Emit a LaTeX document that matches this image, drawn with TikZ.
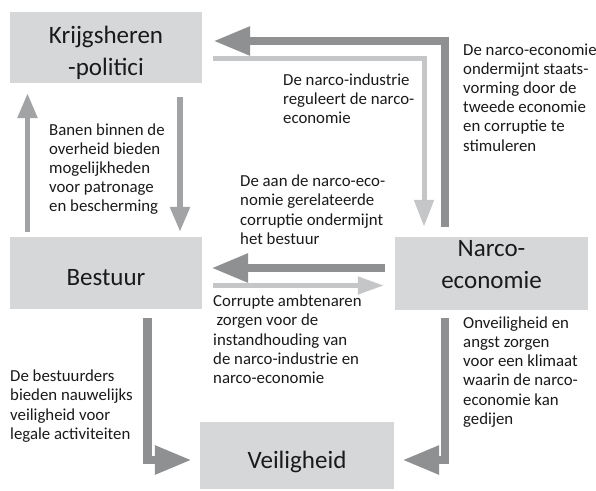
\documentclass[tikz,border=0pt]{standalone}
\usepackage{fontspec}
\setmainfont{Carlito}
\usetikzlibrary{arrows.meta,calc}
\definecolor{boxgray}{RGB}{214,215,217}
\definecolor{darkgr}{RGB}{143,144,146}
\definecolor{midgr}{RGB}{162,163,165}
\definecolor{lightgr}{RGB}{197,198,200}
\definecolor{txt}{RGB}{26,26,26}
\begin{document}
\begin{tikzpicture}[x=1pt,y=-1pt,
  box/.style={fill=boxgray, draw=none, inner sep=0pt, text=txt,
    font=\fontsize{25}{32}\selectfont, text depth=0pt},
  note/.style={anchor=base west, inner sep=0pt, text=txt,
    font=\fontsize{16.8}{19.2}\selectfont},
  darkarr/.style={draw=darkgr, line width=8.5pt, line join=miter,
    -{Triangle[length=37pt,width=27pt]}},
  medarr/.style={draw=midgr, line width=5.5pt, line join=miter,
    -{Triangle[length=25pt,width=19pt]}},
  lightarr/.style={draw=lightgr, line width=5pt, line join=miter,
    -{Triangle[length=27pt,width=19pt]}},
  lightarrb/.style={draw=lightgr, line width=4.5pt, line join=miter,
    -{Triangle[length=26pt,width=17pt]}}
]
\useasboundingbox (0,0) rectangle (596,490);
\fill[white] (0,0) rectangle (596,490);

% boxes
\node[box, minimum width=192pt, minimum height=71pt, text height=55pt] (kp) at (106,47.5)
  {\begin{tabular}[b]{@{}c@{}}Krijgsheren\\-politici\end{tabular}};
\node[box, minimum width=192pt, minimum height=72pt, text height=24pt] (be) at (106,273) {Bestuur};
\node[box, minimum width=193pt, minimum height=73pt, text height=29.6pt] (ne) at (491.5,273.5)
  {\begin{tabular}[b]{@{}c@{}}Narco-\\economie\end{tabular}};
\node[box, minimum width=194pt, minimum height=67pt, text height=25pt] (ve) at (297,455.5) {Veiligheid};

% connectors
\draw[darkarr] ($(ne.north)+(-46.5,-10)$) |- ($(kp.east)+(11,-6.5)$);
\draw[lightarr] ($(kp.east)+(11,11)$) -| ($(ne.north)+(-67.5,-10)$);
\draw[medarr] ($(be.north)+(-78.5,-5)$) -- ($(kp.south)+(-78.5,10)$);
\draw[medarr] ($(kp.south)+(74,14)$) -- ($(be.north)+(74,-5)$);
\draw[darkarr] ($(ne.west)+(-10,-5.5)$) -- ($(be.east)+(9,-5)$);
\draw[lightarrb] ($(be.east)+(11,12.5)$) -- ($(ne.west)+(-11,12)$);
\draw[darkarr] ($(be.south)+(41.5,9)$) |- ($(ve.west)+(-8,4.5)$);
\draw[darkarr] ($(ne.south)+(-46.5,8)$) |- ($(ve.east)+(8,4.5)$);

% texts
\node[note] (t1) at (49,135) {\begin{tabular}[t]{@{}l@{}}Banen binnen de\\overheid bieden\\mogelijkheden\\voor patronage\\en bescherming\end{tabular}};
\node[note] (t2) at (283,85) {\begin{tabular}[t]{@{}l@{}}De narco-industrie\\reguleert de narco-\\economie\end{tabular}};
\node[note] (t3) at (463,55) {\begin{tabular}[t]{@{}l@{}}De narco-economie\\ondermijnt staats-\\vorming door de\\tweede economie\\en corruptie te\\stimuleren\end{tabular}};
\node[note] (t4) at (240,186.7) {\begin{tabular}[t]{@{}l@{}}De aan de narco-eco-\\nomie gerelateerde\\corruptie ondermijnt\\het bestuur\end{tabular}};
\node[note] (t5) at (213,306.7) {\begin{tabular}[t]{@{}l@{}}Corrupte ambtenaren\\\hspace{3.5pt}zorgen voor de\\instandhouding van\\de narco-industrie en\\narco-economie\end{tabular}};
\node[note] (t6) at (10,381.7) {\begin{tabular}[t]{@{}l@{}}De bestuurders\\bieden nauwelijks\\veiligheid voor\\legale activiteiten\end{tabular}};
\node[note] (t7) at (463,328.3) {\begin{tabular}[t]{@{}l@{}}Onveiligheid en\\angst zorgen\\voor een klimaat\\waarin de narco-\\economie kan\\gedijen\end{tabular}};
\end{tikzpicture}
\end{document}
